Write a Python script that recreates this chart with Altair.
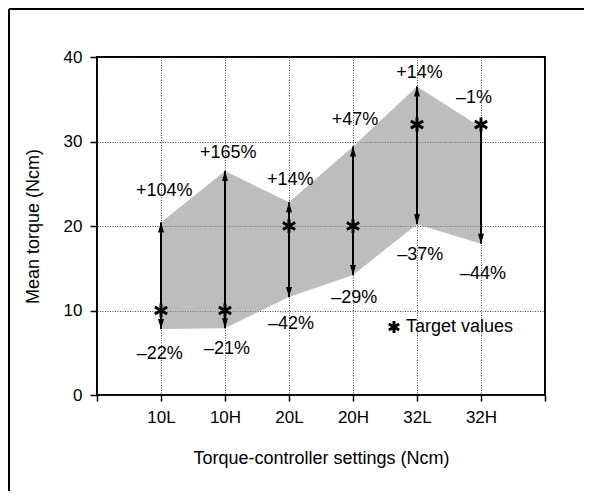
import altair as alt
import pandas as pd

# ---- data ----
settings = ["10L", "10H", "20L", "20H", "32L", "32H"]
positions = [1, 2, 3, 4, 5, 6]
targets = [10, 10, 20, 20, 32, 32]
upper = [20.4, 26.5, 22.8, 29.4, 36.5, 31.7]
lower = [7.8, 7.9, 11.6, 14.2, 20.2, 17.9]
upper_labels = ["+104%", "+165%", "+14%", "+47%", "+14%", "\u20131%"]
lower_labels = ["\u201322%", "\u201321%", "\u201342%", "\u201329%", "\u201337%", "\u201344%"]
upper_label_x = [1.05, 2.05, 3.02, 4.03, 5.04, 5.89]
upper_label_y = [24.1, 28.6, 25.4, 32.5, 38.1, 35.1]
lower_label_x = [0.98, 2.03, 3.03, 4.02, 5.05, 6.03]
lower_label_y = [4.9, 5.5, 8.4, 11.5, 16.6, 14.3]
y_ticks = [0, 10, 20, 30, 40]

FONT = "Liberation Sans"
STAR = "M0,-1L0,1M-0.87,-0.5L0.87,0.5M-0.87,0.5L0.87,-0.5"
ARROW_UP = "M0,0L0.6,2L-0.6,2Z"
ARROW_DOWN = "M0,0L0.6,-2L-0.6,-2Z"

df = pd.DataFrame({
    "setting": settings, "pos": positions, "target": targets,
    "upper": upper, "lower": lower, "kind": ["Target values"] * len(settings),
})
up_df = df[df["upper"] > df["target"]]
up_lab = pd.DataFrame({"lx": upper_label_x, "ly": upper_label_y, "label": upper_labels})
lo_lab = pd.DataFrame({"lx": lower_label_x, "ly": lower_label_y, "label": lower_labels})

x_scale = alt.Scale(domain=[0, 7], nice=False, zero=False)
y_scale = alt.Scale(domain=[0, 40], nice=False)
label_expr = ("datum.value >= 1 && datum.value <= 6 ? " + str(settings)
              + "[datum.value - 1] : ''")
x_axis = alt.Axis(values=list(range(8)), labelExpr=label_expr,
                  title="Torque-controller settings (Ncm)", tickSize=6,
                  labelPadding=8, titlePadding=24)
y_axis = alt.Axis(values=y_ticks, title="Mean torque (Ncm)", tickSize=7,
                  labelPadding=8, titlePadding=21)


def X(field):
    return alt.X(field, scale=x_scale, axis=x_axis)


def Y(field):
    return alt.Y(field, scale=y_scale, axis=y_axis)


area = alt.Chart(df).mark_area(color="#959595", opacity=0.62).encode(
    x=X("pos:Q"), y=Y("lower:Q"), y2="upper:Q")

rule_up = alt.Chart(up_df).mark_rule(color="black", strokeWidth=2).encode(
    x=X("pos:Q"), y=Y("target:Q"), y2="upper:Q")
rule_dn = alt.Chart(df).mark_rule(color="black", strokeWidth=2).encode(
    x=X("pos:Q"), y=Y("target:Q"), y2="lower:Q")

head_up = alt.Chart(up_df).mark_point(
    shape=ARROW_UP, filled=True, color="black", size=100, opacity=1
).encode(x=X("pos:Q"), y=Y("upper:Q"))
head_dn = alt.Chart(df).mark_point(
    shape=ARROW_DOWN, filled=True, color="black", size=100, opacity=1
).encode(x=X("pos:Q"), y=Y("lower:Q"))

stars = alt.Chart(df).mark_point(
    filled=False, color="black", strokeWidth=3, size=200, opacity=1
).encode(
    x=X("pos:Q"), y=Y("target:Q"),
    shape=alt.Shape("kind:N", scale=alt.Scale(range=[STAR]),
                    legend=alt.Legend(title=None, orient="none", legendX=288,
                                      legendY=261, labelFontSize=18, labelFont=FONT,
                                      labelColor="black", symbolSize=140,
                                      symbolStrokeWidth=3, symbolStrokeColor="black",
                                      labelOffset=3, padding=0)))

txt_up = alt.Chart(up_lab).mark_text(fontSize=18, font=FONT, color="black",
                                     baseline="middle").encode(
    x=X("lx:Q"), y=Y("ly:Q"), text="label:N")
txt_dn = alt.Chart(lo_lab).mark_text(fontSize=18, font=FONT, color="black",
                                     baseline="middle").encode(
    x=X("lx:Q"), y=Y("ly:Q"), text="label:N")

one = pd.DataFrame({"f": [0]})
frame_top = alt.Chart(one).mark_rule(color="black", strokeWidth=2).encode(
    x=alt.value(-88), x2=alt.value(800), y=alt.value(-48))
frame_left = alt.Chart(one).mark_rule(color="black", strokeWidth=2).encode(
    x=alt.value(-88), y=alt.value(-48), y2=alt.value(800))

chart = alt.layer(
    area, rule_up, rule_dn, head_up, head_dn, stars, txt_up, txt_dn,
    frame_top, frame_left
).properties(
    width=448, height=338, autosize="none",
    padding={"left": 89, "top": 49, "right": 39, "bottom": 96},
).configure(
    font=FONT, background="white"
).configure_view(
    stroke="black", strokeWidth=2
).configure_axis(
    labelFont=FONT, titleFont=FONT, labelFontSize=17, titleFontSize=18,
    labelColor="black", titleColor="black", titleFontWeight="normal",
    tickColor="black", tickWidth=1.5, domain=False,
    gridColor="#333333", gridDash=[1, 1.5], gridWidth=1, gridOpacity=0.9,
)

chart.save("out.html", embed_options={"renderer": "svg", "actions": False})
